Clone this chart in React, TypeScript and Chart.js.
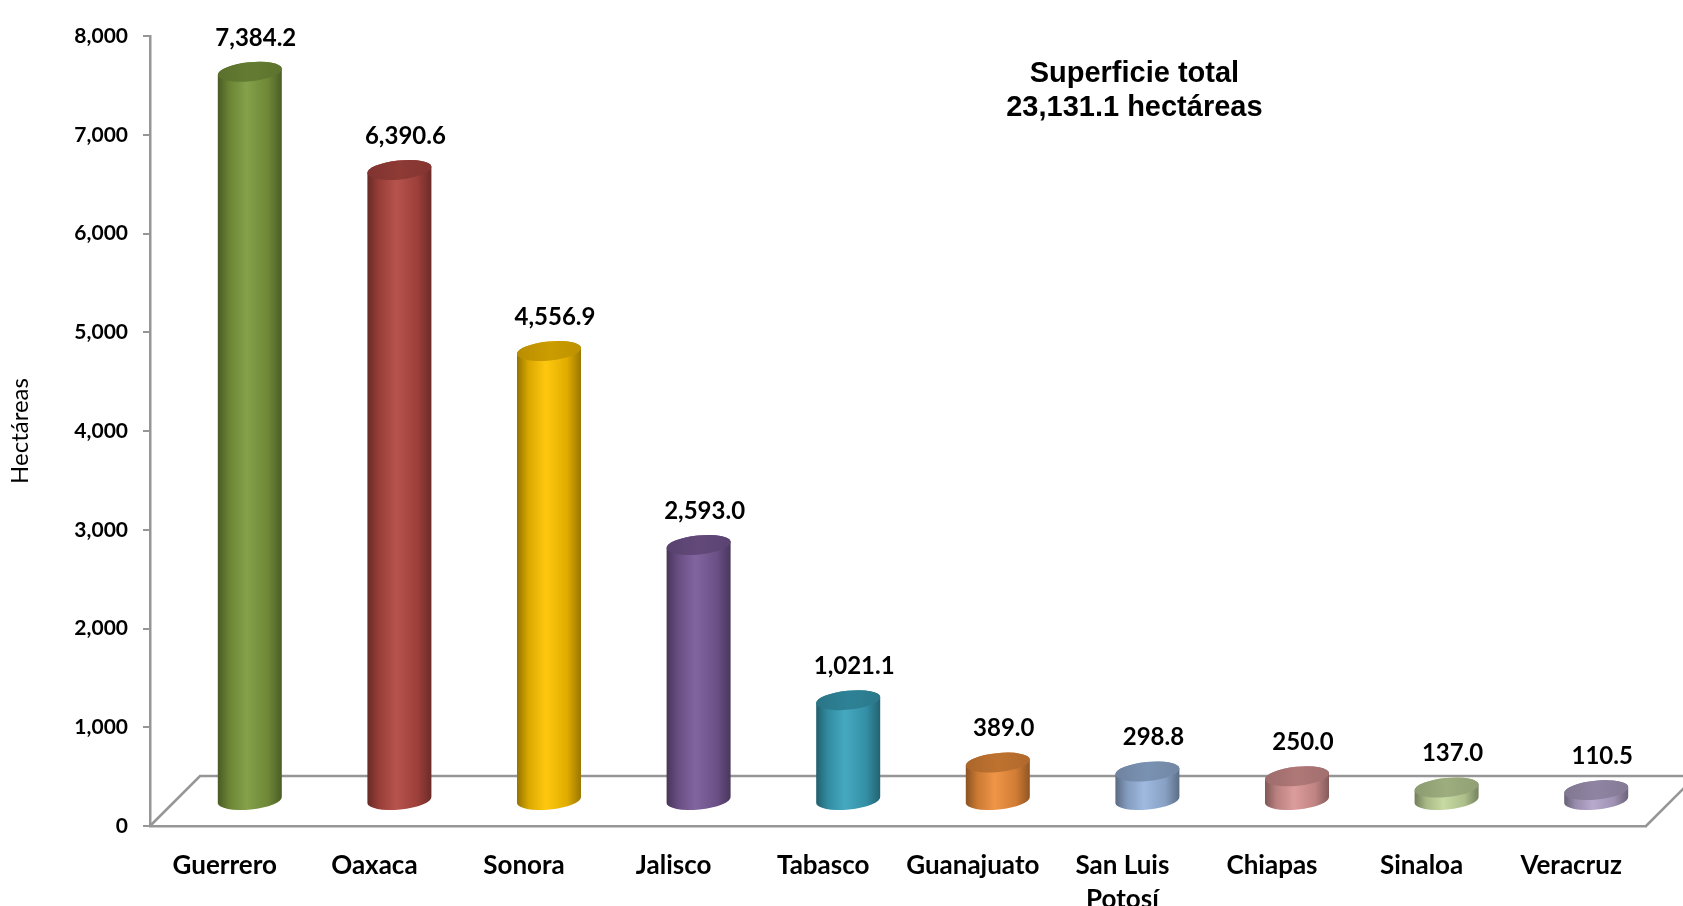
import React, { useEffect, useRef } from 'react';
import Chart from 'chart.js/auto';

// ---- data ----
const categories: (string | string[])[] = [
  'Guerrero', 'Oaxaca', 'Sonora', 'Jalisco', 'Tabasco', 'Guanajuato',
  ['San Luis', 'Potosí'], 'Chiapas', 'Sinaloa', 'Veracruz',
];
const values: number[] = [7384.2, 6390.6, 4556.9, 2593.0, 1021.1, 389.0, 298.8, 250.0, 137.0, 110.5];
const yMin = 0;
const yMax = 8000;
const yStep = 1000;
const axisTitle = 'Hectáreas';
const titleLines = ['Superficie total', '23,131.1 hectáreas'];

// ---- styles ----
const baseColors = [
  '#7D9B3E', '#B24842', '#FFC400', '#7A5B99', '#3AA3BC',
  '#EE8E3C', '#99B6DE', '#DA9695', '#C4D89D', '#B3A5CA',
];
const DEPTH = 50;
const LINE = '#969696';

function shade(hex: string, f: number): string {
  const n = parseInt(hex.slice(1), 16);
  let r = (n >> 16) & 255, g = (n >> 8) & 255, b = n & 255;
  const adj = (c: number) => {
    if (f <= 1) return Math.round(c * f);
    return Math.round(c + (255 - c) * (f - 1));
  };
  r = Math.min(255, adj(r)); g = Math.min(255, adj(g)); b = Math.min(255, adj(b));
  return `rgb(${r},${g},${b})`;
}

const fmt = (v: number, d: number) =>
  v.toLocaleString('en-US', { minimumFractionDigits: d, maximumFractionDigits: d });

const cylinderPlugin = {
  id: 'cylinders3d',
  beforeDatasetsDraw(chart: any) {
    const { ctx, chartArea: a } = chart;
    ctx.save();
    ctx.strokeStyle = LINE;
    ctx.lineWidth = 2.5;
    ctx.beginPath();
    ctx.moveTo(a.left, a.bottom);
    ctx.lineTo(a.left + DEPTH, a.bottom - DEPTH);
    ctx.lineTo(a.right + DEPTH, a.bottom - DEPTH);
    ctx.moveTo(a.right, a.bottom);
    ctx.lineTo(a.right + DEPTH, a.bottom - DEPTH);
    ctx.stroke();
    ctx.restore();
  },
  afterDatasetsDraw(chart: any) {
    const { ctx, chartArea: a } = chart;
    const meta = chart.getDatasetMeta(0);
    const ds = chart.data.datasets[0];
    const tilt = -0.1;
    meta.data.forEach((el: any, i: number) => {
      const { x, y, base, width } = el.getProps(['x', 'y', 'base', 'width'], true);
      const cx = x + DEPTH / 2;
      const topY = y - DEPTH / 2;
      const baseY = base - DEPTH / 2;
      const rx = width / 2;
      const ry = 9.5;
      const col = baseColors[i % baseColors.length];
      ctx.save();
      // body
      const g = ctx.createLinearGradient(cx - rx, 0, cx + rx, 0);
      g.addColorStop(0, shade(col, 0.58));
      g.addColorStop(0.18, shade(col, 0.85));
      g.addColorStop(0.45, shade(col, 1.06));
      g.addColorStop(0.78, shade(col, 0.88));
      g.addColorStop(1, shade(col, 0.6));
      ctx.fillStyle = g;
      ctx.beginPath();
      ctx.ellipse(cx, baseY, rx, ry, tilt, 0, Math.PI, false);
      ctx.lineTo(cx - rx * Math.cos(tilt), topY - rx * Math.sin(tilt));
      ctx.ellipse(cx, topY, rx, ry, tilt, Math.PI, 0, false);
      ctx.closePath();
      ctx.fill();
      // top cap
      const tg = ctx.createLinearGradient(cx - rx, 0, cx + rx, 0);
      tg.addColorStop(0, shade(col, 0.72));
      tg.addColorStop(0.5, shade(col, 0.8));
      tg.addColorStop(1, shade(col, 0.74));
      ctx.fillStyle = tg;
      ctx.beginPath();
      ctx.ellipse(cx, topY, rx, ry, tilt, 0, Math.PI * 2);
      ctx.fill();
      // value label
      ctx.fillStyle = '#000';
      ctx.font = 'bold 24px Lato';
      ctx.textAlign = 'center';
      ctx.textBaseline = 'middle';
      ctx.fillText(fmt(ds.data[i], 1), cx + 6, topY - 34);
      ctx.restore();
    });
    // chart title
    ctx.save();
    ctx.fillStyle = '#000';
    ctx.font = 'bold 29px "Liberation Sans", Arial, sans-serif';
    ctx.textAlign = 'center';
    ctx.textBaseline = 'middle';
    const tx = a.left + a.width * 0.658;
    titleLines.forEach((t, k) => ctx.fillText(t, tx, a.top + 38 + k * 34));
    ctx.restore();
  },
};

export default function App() {
  const ref = useRef<HTMLCanvasElement | null>(null);
  useEffect(() => {
    if (!ref.current) return;
    const chart = new Chart(ref.current, {
      type: 'bar',
      data: {
        labels: categories as any,
        datasets: [{
          data: values,
          backgroundColor: 'rgba(0,0,0,0)',
          borderWidth: 0,
          barPercentage: 0.43,
          categoryPercentage: 1,
        }],
      },
      options: {
        animation: false,
        responsive: true,
        maintainAspectRatio: false,
        layout: { padding: { top: 36, right: 37, left: 0, bottom: 0 } },
        plugins: { legend: { display: false }, tooltip: { enabled: false }, title: { display: false } },
        scales: {
          x: {
            grid: { display: false },
            border: { display: true, color: LINE, width: 2.5 },
            ticks: { color: '#000', font: { family: 'Lato', size: 26, weight: 'bold', lineHeight: 1.3 }, padding: 15, maxRotation: 0, autoSkip: false },
            afterFit: (s: any) => { s.height = 80; },
          },
          y: {
            min: yMin,
            max: yMax,
            grid: { drawOnChartArea: false, drawTicks: true, tickLength: 7, color: LINE, lineWidth: 2 },
            border: { display: true, color: LINE, width: 2.5 },
            ticks: {
              stepSize: yStep,
              color: '#000',
              padding: 15,
              font: { family: 'Lato', size: 21, weight: 'bold' },
              callback: (v: any) => fmt(Number(v), 0),
            },
            title: { display: true, text: axisTitle, color: '#000', font: { family: 'Lato', size: 24 }, padding: { top: 6, bottom: 0 } },
            afterFit: (s: any) => { s.width = 150; },
          },
        },
      } as any,
      plugins: [cylinderPlugin],
    });
    return () => chart.destroy();
  }, []);
  return (
    <div style={{ position: 'fixed', left: 0, top: 0, width: 1683, height: 906, background: '#fff' }}>
      <canvas ref={ref} />
    </div>
  );
}
